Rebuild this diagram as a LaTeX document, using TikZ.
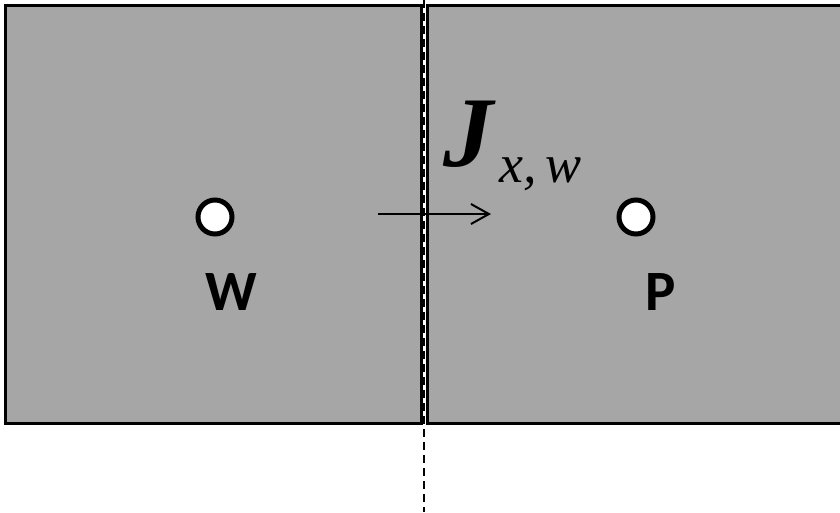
\documentclass[tikz,border=0pt]{standalone}
\usepackage{fontspec}
\setmainfont{Liberation Serif}
\newfontfamily\labelfont{Carlito}
\usetikzlibrary{arrows.meta}
\tikzset{
  cell/.style={fill=cellgray, draw=black, line width=3pt},
  pt/.style={circle, fill=white, draw=black, line width=5pt, minimum size=34pt, inner sep=0pt},
  lbl/.style={font=\labelfont\bfseries\fontsize{57}{57}\selectfont, inner sep=0pt},
}
\definecolor{cellgray}{RGB}{166,166,166}
\begin{document}
\begin{tikzpicture}[x=1pt,y=-1pt]
\useasboundingbox (0,0) rectangle (840,512);
\draw[cell] (5,5) rectangle (421,423);
\draw[cell] (427,5) -- (843,5) -- (843,423) -- (427,423) -- cycle;
\draw[black, line width=1.5pt, dash pattern=on 8pt off 5pt] (424,0) -- (424,512);
\node[pt] (w) at (215,217) {};
\node[pt] (p) at (636,217) {};
\node[lbl] (wl) at (231,292) {W};
\node[lbl] (pl) at (661,292) {P};
\coordinate (a0) at (378,214);
\coordinate (a1) at (491,214);
\draw[line width=2pt, -{Straight Barb[length=18pt,width=20pt,line width=2pt]}] (a0) -- (a1);
\node[font=\fontsize{100}{100}\selectfont\bfseries\itshape, inner sep=0pt] (J) at (468,134) {J};
\node[font=\fontsize{54}{54}\selectfont\itshape, inner sep=0pt, anchor=base west] (sub) at (499,182) {x,\,w};
\end{tikzpicture}
\end{document}
